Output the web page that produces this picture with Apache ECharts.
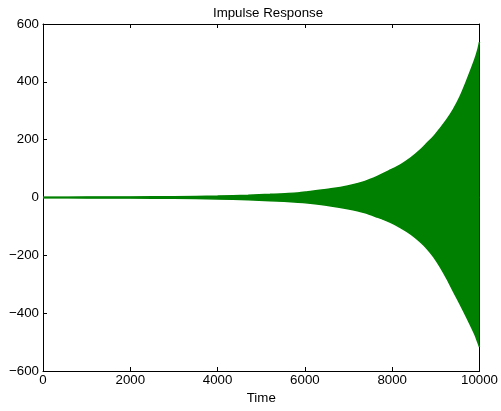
<!DOCTYPE html>
<html>
<head>
<meta charset="utf-8">
<script src="https://cdn.jsdelivr.net/npm/echarts@6/dist/echarts.min.js"></script>
<style>
html,body{margin:0;padding:0;background:#fff;}
#chart{width:501px;height:411px;}
</style>
</head>
<body>
<div id="chart"></div>
<script>
// Envelope of the impulse response
var times = [0, 1000, 2000, 3000, 4000, 4700, 5200, 5840, 6070, 6600, 6980, 7360, 7660, 7960, 8190, 8420, 8640, 8800, 8950, 9100, 9250, 9400, 9550, 9700, 9890, 9960, 10000];
var upperEnv = [1, 1.5, 2, 3, 5, 8, 11, 16, 20, 30, 40, 55, 73, 95, 113, 136, 164, 188, 211, 239, 269, 304, 347, 401, 476, 510, 538];
var lowerEnv = [-1, -1.5, -2, -3, -5, -8, -11, -16, -19, -29, -39, -52, -68, -86, -104, -126, -153, -177, -205, -240, -280, -324, -367, -412, -472, -500, -517];
var xTicks = [0, 2000, 4000, 6000, 8000, 10000];
var yTicks = [-600, -400, -200, 0, 200, 400, 600];

var green = '#008000';
var font = 'Liberation Sans, Arial, Helvetica, sans-serif';
var fs = 13.3;

function pairs(v) { return times.map(function (t, i) { return [t, v[i]]; }); }
function fmtY(v) { return v < 0 ? '\u2212' + Math.abs(v) : String(v); }
function fmtX(v) { return String(v); }

var tick = {show: true, inside: true, length: 4, lineStyle: {color: '#000', width: 1}};
var line = {show: true, onZero: false, lineStyle: {color: '#000', width: 1}};

var chart = echarts.init(document.getElementById('chart'), null, {renderer: 'canvas'});
chart.setOption({
  animation: false,
  backgroundColor: '#fff',
  title: {
    text: 'Impulse Response', left: 263, top: 2, textAlign: 'center',
    textStyle: {fontFamily: font, fontSize: fs, fontWeight: 'normal', color: '#000'}
  },
  grid: {left: 43, right: 18, top: 24, bottom: 40, containLabel: false},
  xAxis: [{
    type: 'value', min: xTicks[0], max: xTicks[xTicks.length - 1], interval: 2000,
    name: 'Time', nameLocation: 'middle', nameGap: 20,
    nameTextStyle: {fontFamily: font, fontSize: fs, color: '#000'},
    axisLine: line, axisTick: tick,
    axisLabel: {fontFamily: font, fontSize: fs, color: '#000', margin: 3, formatter: fmtX},
    splitLine: {show: false}
  }, {
    type: 'value', position: 'top', min: xTicks[0], max: xTicks[xTicks.length - 1], interval: 2000,
    axisLine: line, axisTick: tick,
    axisLabel: {show: false}, splitLine: {show: false}
  }],
  yAxis: [{
    type: 'value', min: yTicks[0], max: yTicks[yTicks.length - 1], interval: 200,
    axisLine: line, axisTick: tick,
    axisLabel: {fontFamily: font, fontSize: fs, color: '#000', margin: 4, formatter: fmtY},
    splitLine: {show: false}
  }, {
    type: 'value', position: 'right', min: yTicks[0], max: yTicks[yTicks.length - 1], interval: 200,
    axisLine: line, axisTick: tick,
    axisLabel: {show: false}, splitLine: {show: false}
  }],
  series: [{
    type: 'line', data: pairs(upperEnv), showSymbol: false, smooth: 0.3,
    lineStyle: {color: green, width: 1.5}, areaStyle: {color: green, opacity: 1, origin: -3},
    z: 1
  }, {
    type: 'line', data: pairs(lowerEnv), showSymbol: false, smooth: 0.3,
    lineStyle: {color: green, width: 1.5}, areaStyle: {color: green, opacity: 1, origin: 3},
    z: 1
  }]
});
</script>
</body>
</html>
